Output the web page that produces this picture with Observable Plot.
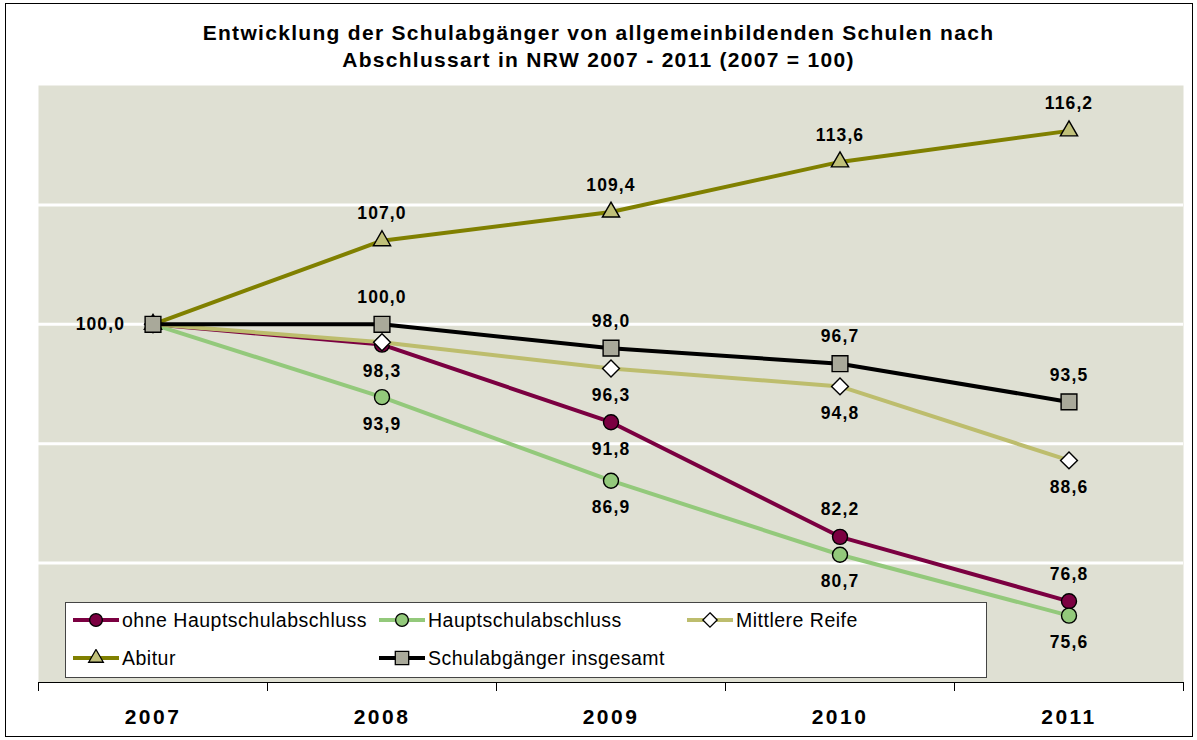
<!DOCTYPE html>
<html><head><meta charset="utf-8">
<script src="https://cdn.jsdelivr.net/npm/d3@7"></script>
<script src="https://cdn.jsdelivr.net/npm/@observablehq/plot@0.6"></script>
<style>
body{margin:0;background:#fff;font-family:"Liberation Sans",Arial,sans-serif;}
#wrap{position:relative;width:1197px;height:740px;overflow:hidden;background:#fff}
#border{position:absolute;left:5px;top:3px;width:1186px;height:732px;border:1.5px solid #000;pointer-events:none}
#title{position:absolute;left:0;top:19px;width:1197px;text-align:center;font-weight:bold;font-size:21px;letter-spacing:1.3px;line-height:27px;color:#000}
#chart{position:absolute;left:0;top:70px}
#chart svg text{letter-spacing:1.1px}
#chart svg g[aria-label="x-axis tick label"] text{letter-spacing:2.5px}
#legend{position:absolute;left:65px;top:602px;width:920px;height:74px;background:#fff;border:1px solid #444}
.item{position:absolute;display:flex;align-items:center;font-size:19.5px;letter-spacing:0.5px;height:24px;color:#000;white-space:nowrap}
.item svg{margin-right:3px}
</style></head>
<body>
<div id="wrap">
  <div id="title">Entwicklung der Schulabgänger von allgemeinbildenden Schulen nach<br>Abschlussart in NRW 2007 - 2011 (2007 = 100)</div>
  <div id="chart"></div>
  <div id="legend"></div>
  <div id="border"></div>
</div>
<script>
// ---- data ----
const years = [2007, 2008, 2009, 2010, 2011];
const seriesNames = ["ohne Hauptschulabschluss", "Hauptschulabschluss", "Mittlere Reife", "Abitur", "Schulabgänger insgesamt"];
const ohneValues     = [100.0, 98.3, 91.8, 82.2, 76.8];
const hauptValues    = [100.0, 93.9, 86.9, 80.7, 75.6];
const mittlereValues = [100.0, 98.5, 96.3, 94.8, 88.6];
const abiturValues   = [100.0, 107.0, 109.4, 113.6, 116.2];
const gesamtValues   = [100.0, 100.0, 98.0, 96.7, 93.5];
// label placement per series and year (styling config)
const labelSides = [
  ["none", "below", "below", "above", "above"],
  ["none", "below", "below", "below", "below"],
  ["none", "none", "below", "below", "below"],
  ["none", "above", "above", "above", "above"],
  ["left", "above", "above", "above", "above"]
];
// ---- styles ----
const lineColors   = ["#7B0041", "#93C97B", "#BDBD6D", "#808000", "#000000"];
const markerFills  = ["#7B0041", "#93C97B", "#FFFFFF", "#C0C07A", "#A9A99A"];
const markerSymbols= ["circle", "circle", "diamond2", "triangle", "square"];
const markerR      = [7.5, 7.5, 7.6, 6.4, 8.9];

const valueArrays = [ohneValues, hauptValues, mittlereValues, abiturValues, gesamtValues];
const rows = [];
seriesNames.forEach((s, i) => years.forEach((y, j) => rows.push({series: s, si: i, year: y, value: valueArrays[i][j], side: labelSides[i][j]})));

const fmt = v => v.toFixed(1).replace(".", ",");
const boundaries = years.map(y => y - 0.5).concat([years[years.length - 1] + 0.5]);

const marks = [
  Plot.frame({fill: "#DFE0D3", stroke: null}),
  Plot.ruleY([80, 90, 100, 110], {stroke: "#fff", strokeWidth: 3}),
  Plot.ruleY([70], {stroke: "#000", strokeWidth: 1}),
  Plot.axisX({ticks: boundaries, tickFormat: () => "", tickSize: 9, stroke: "#000", label: null}),
  Plot.axisX({ticks: years, tickSize: 0, tickPadding: 27, tickFormat: d => String(d), fontSize: 21, fontWeight: "bold", fill: "#000", label: null})
];
seriesNames.forEach((s, i) => {
  const d = rows.filter(r => r.si === i);
  marks.push(Plot.line(d, {x: "year", y: "value", stroke: lineColors[i], strokeWidth: 4}));
  marks.push(Plot.dot(d, {x: "year", y: "value", symbol: () => markerSymbols[i], r: markerR[i], fill: markerFills[i], stroke: "#000", strokeWidth: 1.4}));
});
const above = rows.filter(r => r.side === "above");
const below = rows.filter(r => r.side === "below");
const left = rows.filter(r => r.side === "left");
const textOpts = {x: "year", y: "value", text: d => fmt(d.value), fontSize: 17.5, fontWeight: "bold", fill: "#000"};
marks.push(Plot.text(above, {...textOpts, dy: -27}));
marks.push(Plot.text(below, {...textOpts, dy: 27}));
marks.push(Plot.text(left, {...textOpts, dx: -28, textAnchor: "end"}));

const chart = Plot.plot({
  width: 1197,
  height: 670,
  marginTop: 15,
  marginBottom: 58,
  marginLeft: 38,
  marginRight: 14,
  style: {fontFamily: "'Liberation Sans', Arial, sans-serif", background: "transparent", overflow: "visible"},
  x: {domain: [years[0] - 0.5, years[years.length - 1] + 0.5], axis: null},
  y: {domain: [70, 120], axis: null},
  marks
});
document.getElementById("chart").appendChild(chart);

// ---- legend ----
const legendPos = [[7, 5], [313, 5], [621, 5], [7, 43], [313, 43]];
const legend = document.getElementById("legend");
seriesNames.forEach((s, i) => {
  const item = document.createElement("div");
  item.className = "item";
  item.style.left = legendPos[i][0] + "px";
  item.style.top = legendPos[i][1] + "px";
  const sw = d3.create("svg").attr("width", 46).attr("height", 18);
  sw.append("line").attr("x1", 0).attr("x2", 46).attr("y1", 9).attr("y2", 9).attr("stroke", lineColors[i]).attr("stroke-width", 4);
  const symMap = {circle: d3.symbolCircle, diamond2: d3.symbolDiamond2, triangle: d3.symbolTriangle, square: d3.symbolSquare};
  const rr = markerR[i] * 0.85;
  sw.append("path").attr("d", d3.symbol(symMap[markerSymbols[i]], rr * rr * Math.PI)()).attr("transform", "translate(23,9)")
    .attr("fill", markerFills[i]).attr("stroke", "#000").attr("stroke-width", 1.3);
  item.appendChild(sw.node());
  const t = document.createElement("span");
  t.textContent = s;
  item.appendChild(t);
  legend.appendChild(item);
});
</script>
</body></html>
